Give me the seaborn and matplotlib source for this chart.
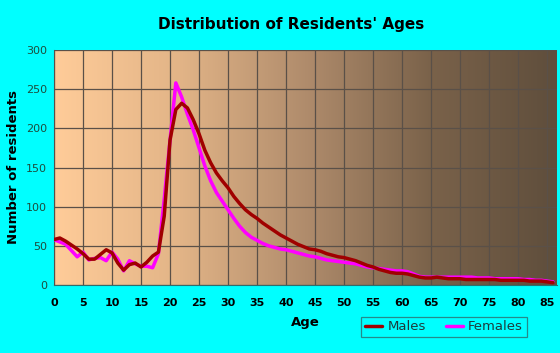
import numpy as np
import pandas as pd
import matplotlib
matplotlib.use("Agg")
import matplotlib.pyplot as plt
import seaborn as sns
from matplotlib.colors import LinearSegmentedColormap

# ages 0..86, residents per single year of age
ages = list(range(0, 87))
males = [58, 60, 56, 51, 46, 40, 33, 33, 39, 45,
         41, 28, 19, 26, 28, 23, 29, 37, 42, 88,
         185, 224, 232, 226, 211, 193, 172, 156, 143, 133,
         124, 113, 104, 96, 90, 85, 79, 74, 69, 64,
         60, 56, 52, 49, 46, 45, 43, 40, 38, 36,
         35, 33, 31, 28, 25, 23, 20, 18, 16, 15,
         15, 14, 12, 10, 9, 9, 10, 9, 8, 8,
         8, 7, 7, 7, 7, 7, 7, 6, 6, 6,
         6, 6, 5, 5, 5, 4, 3]
females = [58, 55, 52, 44, 36, 42, 32, 34, 35, 31,
           42, 33, 18, 31, 27, 24, 24, 22, 40, 110,
           185, 258, 240, 218, 198, 175, 152, 133, 118, 107,
           96, 85, 75, 67, 61, 57, 53, 50, 48, 46,
           45, 43, 41, 39, 37, 36, 34, 32, 31, 30,
           29, 28, 27, 25, 23, 22, 21, 20, 19, 18,
           18, 17, 14, 11, 10, 10, 10, 10, 10, 10,
           10, 10, 10, 9, 9, 9, 8, 8, 8, 8,
           8, 7, 7, 6, 6, 5, 4]

df = pd.concat([
    pd.DataFrame({"Age": ages, "Residents": males, "Sex": "Males"}),
    pd.DataFrame({"Age": ages, "Residents": females, "Sex": "Females"}),
])

sns.set_style("white")
plt.rcParams["font.family"] = ["DejaVu Sans"]

fig = plt.figure(figsize=(5.6, 3.53), dpi=100, facecolor="#00ffff")
ax = fig.add_axes([54 / 560, 68 / 353, 503 / 560, 235 / 353])

x_max = 86.7
# background gradient, light orange -> dark brown
cmap = LinearSegmentedColormap.from_list(
    "bg", ["#ffcc99", "#e2b487", "#b08c6c", "#7a624a", "#5f4e3c"])
grad = np.linspace(0, 1, 256).reshape(1, -1)
ax.imshow(grad, aspect="auto", cmap=cmap, extent=[0, x_max, 0, 300],
          zorder=0, interpolation="bilinear")

sns.lineplot(data=df, x="Age", y="Residents", hue="Sex", ax=ax,
             palette={"Males": "#a00000", "Females": "#ff00ff"},
             hue_order=["Females", "Males"], linewidth=2.5, zorder=3)
# males on top
for line in ax.lines:
    if line.get_color() == "#a00000":
        line.set_zorder(4)

ax.set_xlim(0, x_max)
ax.set_ylim(0, 300)
ax.set_xticks(range(0, 86, 5))
ax.set_xticks(range(0, 87), minor=True)
ax.set_yticks(range(0, 301, 50))
ax.grid(True, which="major", color="#5a5048", linewidth=0.9, zorder=1)
ax.set_axisbelow(False)
for gl in ax.get_xgridlines() + ax.get_ygridlines():
    gl.set_zorder(1)

for side in ["top", "right"]:
    ax.spines[side].set_visible(False)
ax.spines["left"].set_color("#2e6e6e")
ax.spines["bottom"].set_color("#2e6e6e")
ax.tick_params(axis="x", which="major", length=5, width=0.8, color="#333333",
               labelsize=8, labelcolor="#000000", pad=4)
ax.tick_params(axis="x", which="minor", length=3, width=0.7, color="#333333")
ax.tick_params(axis="y", length=4, width=0.8, color="#333333",
               labelsize=8, labelcolor="#1d4d3d", pad=1)
for lab in ax.get_xticklabels():
    lab.set_fontweight("bold")

ax.set_xlabel("Age", fontsize=9.5, fontweight="bold", labelpad=6, color="black")
ax.set_ylabel("Number of residents", fontsize=9.5, fontweight="bold", labelpad=4,
              color="black")
fig.text(0.52, 0.93, "Distribution of Residents' Ages", ha="center", va="center",
         fontsize=11, fontweight="bold", color="black")

handles, labels = ax.get_legend_handles_labels()
order = [labels.index("Males"), labels.index("Females")]
leg = ax.legend([handles[i] for i in order], [labels[i] for i in order],
                loc="center", bbox_to_anchor=(444 / 560, 26 / 353),
                bbox_transform=fig.transFigure, ncol=2, fontsize=9.5,
                frameon=True, fancybox=False, facecolor="#00ffff",
                edgecolor="#2e6e6e", handlelength=1.3, handletextpad=0.4,
                columnspacing=1.5, borderpad=0.3)
leg.get_frame().set_linewidth(0.9)
for t in leg.get_texts():
    t.set_color("#1d3d3d")

fig.savefig("out.png", dpi=100, facecolor=fig.get_facecolor())
